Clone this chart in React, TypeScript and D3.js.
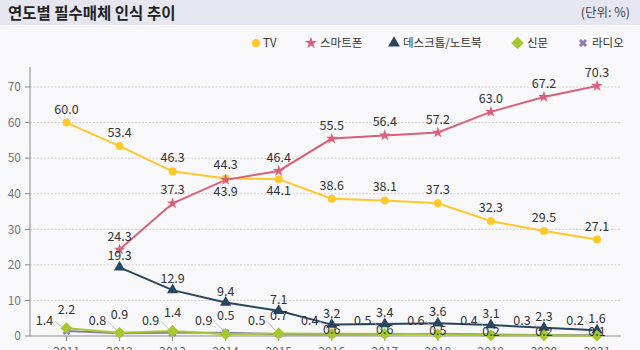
import React from 'react';
import * as d3 from 'd3';

const years = ['2011', '2012', '2013', '2014', '2015', '2016', '2017', '2018', '2019', '2020', '2021'];
const tvValues: (number | null)[] = [60.0, 53.4, 46.3, 44.3, 44.1, 38.6, 38.1, 37.3, 32.3, 29.5, 27.1];
const smartphoneValues: (number | null)[] = [null, 24.3, 37.3, 43.9, 46.4, 55.5, 56.4, 57.2, 63.0, 67.2, 70.3];
const desktopValues: (number | null)[] = [null, 19.3, 12.9, 9.4, 7.1, 3.2, 3.4, 3.6, 3.1, 2.3, 1.6];
const newspaperValues: (number | null)[] = [2.2, 0.9, 1.4, 0.5, 0.7, 0.6, 0.6, 0.5, 0.2, 0.2, 0.1];
const radioValues: (number | null)[] = [1.4, 0.8, 0.9, 0.9, 0.5, 0.4, 0.5, 0.6, 0.4, 0.3, 0.2];
const yTicks = [0, 10, 20, 30, 40, 50, 60, 70];

const seriesNames = ['TV', '스마트폰', '데스크톱/노트북', '신문', '라디오'];
const title = '연도별 필수매체 인식 추이';
const unitLabel = '(단위: %)';

// label placement per point (not data values)
const tvPlace = ['a', 'a', 'a', 'a', 'b', 'a', 'a', 'a', 'a', 'a', 'a'];
const smartPlace = ['a', 'a', 'a', 'b', 'a', 'a', 'a', 'a', 'a', 'a', 'a'];
const desktopPlace = ['a', 'a', 'a', 'a', 'a', 'a', 'a', 'a', 'a', 'a', 'a'];
const newsPlace = ['a', 'a', 'a', 'a', 'a', 'c', 'c', 'c', 'c', 'c', 'c'];
const radioPlace = ['l', 'l', 'l', 'l', 'l', 'l', 'l', 'l', 'l', 'l', 'l'];

const FONT = "'Noto Sans CJK KR', 'Noto Sans', sans-serif";

const x = d3.scalePoint<string>().domain(years).range([66.5, 597]).padding(0);
const y = d3.scaleLinear().domain([0, 70]).range([336, 87]);

type Series = {
  name: string;
  values: (number | null)[];
  color: string;
  symbol: d3.SymbolType;
  size: number;
  rotate: number;
  place: string[];
};

const series: Series[] = [
  { name: seriesNames[0], values: tvValues, color: '#fdc82a', symbol: d3.symbolCircle, size: 50, rotate: 0, place: tvPlace },
  { name: seriesNames[1], values: smartphoneValues, color: '#d8607a', symbol: d3.symbolStar, size: 42, rotate: 0, place: smartPlace },
  { name: seriesNames[2], values: desktopValues, color: '#29455f', symbol: d3.symbolTriangle, size: 55, rotate: 0, place: desktopPlace },
  { name: seriesNames[3], values: newspaperValues, color: '#a5c82d', symbol: d3.symbolSquare, size: 70, rotate: 45, place: newsPlace },
  { name: seriesNames[4], values: radioValues, color: '#8a7bb3', symbol: d3.symbolCross, size: 38, rotate: 45, place: radioPlace },
];

const drawOrder = [0, 1, 2, 4, 3];

export default function App() {
  const line = d3
    .line<number | null>()
    .defined((d) => d != null)
    .x((_, i) => x(years[i]) as number)
    .y((d) => y(d as number));

  const legendPos = [
    { mx: 256, tx: 263 },
    { mx: 311, tx: 320 },
    { mx: 394, tx: 403 },
    { mx: 517.5, tx: 527 },
    { mx: 583, tx: 592 },
  ];

  return (
    <svg
      width={640}
      height={350}
      style={{ position: 'absolute', left: 0, top: 0, fontFamily: FONT }}
    >
      <rect x={0} y={0} width={640} height={350} fill="#f8f8fb" />
      <rect x={0} y={0} width={640} height={25} fill="#e6e6f0" />
      <text x={8} y={18.5} fontSize={15.5} fontWeight={700} fill="#222">
        {title}
      </text>
      <text x={630} y={17} fontSize={12.5} fill="#444" textAnchor="end">
        {unitLabel}
      </text>

      {/* legend */}
      {series.map((s, i) => (
        <g key={'lg' + i}>
          <path
            d={d3.symbol().type(s.symbol).size(s.size * 1.1)() as string}
            transform={`translate(${legendPos[i].mx},43) rotate(${s.rotate})`}
            fill={s.color}
          />
          <text x={legendPos[i].tx} y={47} fontSize={11.5} fill="#333">
            {s.name}
          </text>
        </g>
      ))}

      {/* grid */}
      {yTicks.map((t) => (
        <g key={'g' + t}>
          {t > 0 && (
            <line x1={30} x2={621} y1={y(t)} y2={y(t)} stroke="#c4c4c4" strokeWidth={0.8} strokeDasharray="2,1.5" />
          )}
          <line x1={25} x2={30} y1={y(t)} y2={y(t)} stroke="#888" strokeWidth={1} />
          <text x={21} y={y(t) + 4.3} fontSize={12} fill="#777" textAnchor="end">
            {t}
          </text>
        </g>
      ))}
      <line x1={30} x2={30} y1={67} y2={336} stroke="#888" strokeWidth={1} />
      <line x1={30} x2={621} y1={336} y2={336} stroke="#888" strokeWidth={1.2} />
      {years.map((yr) => (
        <g key={'x' + yr}>
          <line x1={x(yr)} x2={x(yr)} y1={336} y2={341} stroke="#888" strokeWidth={1} />
          <text x={x(yr)} y={356} fontSize={12} fill="#666" textAnchor="middle">
            {yr}
          </text>
        </g>
      ))}

      {/* lines */}
      {drawOrder.map((si) => {
        const s = series[si];
        return <path key={'l' + si} d={line(s.values) as string} fill="none" stroke={s.color} strokeWidth={2} />;
      })}

      {/* radio leader lines */}
      {radioValues.map((v, i) =>
        v == null ? null : (
          <line
            key={'ld' + i}
            x1={(x(years[i]) as number) - 12}
            y1={321}
            x2={x(years[i]) as number}
            y2={y(v)}
            stroke="#b5b5b5"
            strokeWidth={0.8}
          />
        )
      )}

      {/* markers */}
      {drawOrder.map((si) => {
        const s = series[si];
        const p = d3.symbol().type(s.symbol).size(s.size)() as string;
        return (
          <g key={'m' + si}>
            {s.values.map((v, i) =>
              v == null ? null : (
                <path
                  key={i}
                  d={p}
                  transform={`translate(${x(years[i])},${y(v)}) rotate(${s.rotate})`}
                  fill={s.color}
                />
              )
            )}
          </g>
        );
      })}

      {/* labels */}
      {series.map((s, si) => (
        <g key={'t' + si}>
          {s.values.map((v, i) => {
            if (v == null) return null;
            const px = x(years[i]) as number;
            const py = y(v);
            const pl = s.place[i];
            let tx = px;
            let ty = py - 9;
            if (si === 2) ty = py - 7;
            if (si === 3) ty = py - 14;
            if (pl === 'b') ty = py + 16;
            if (pl === 'c') ty = py + 0.5;
            if (pl === 'l') {
              tx = px - 22;
              ty = 325;
            }
            return (
              <text key={i} x={tx} y={ty} fontSize={12.5} fill="#333" textAnchor="middle">
                {v.toFixed(1)}
              </text>
            );
          })}
        </g>
      ))}
    </svg>
  );
}
